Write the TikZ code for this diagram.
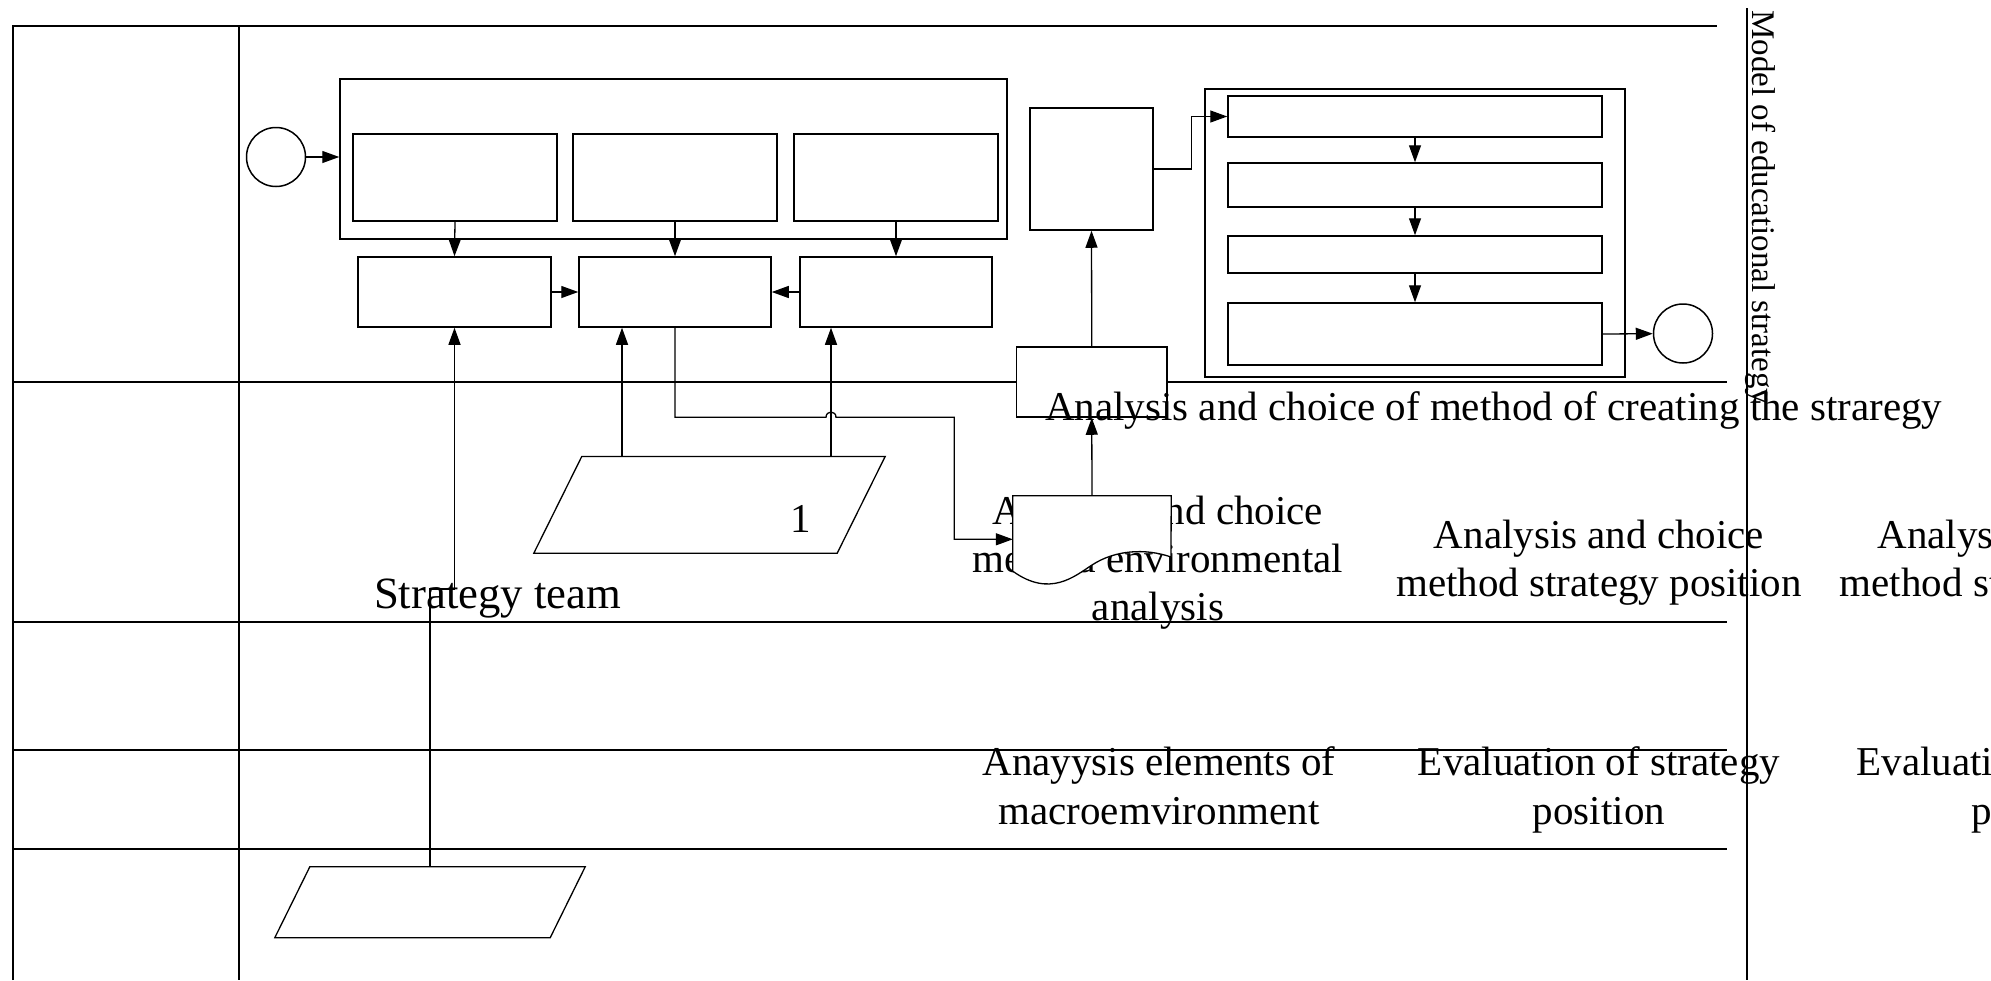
\documentclass[tikz,border=0pt]{standalone}
\usepackage{fontspec}
\setmainfont{Liberation Serif}
\usetikzlibrary{arrows.meta,calc}

\tikzset{
  frame/.style={line width=1.5pt},
  boxnode/.style={draw, rectangle, line width=1.5pt, fill=white, inner sep=0pt},
  ringnode/.style={draw, circle, line width=1.5pt, fill=white, inner sep=0pt, minimum size=59pt},
  plain/.style={rectangle, inner sep=0pt, draw=none},
  arr/.style={line width=1.3pt, -{Triangle[length=17pt,width=12pt]}},
  lbl/.style={font=\fontsize{41}{48}\selectfont, inner sep=0pt, anchor=base},
  biglbl/.style={font=\fontsize{44.7}{52}\selectfont, inner sep=0pt, anchor=base},
  sidelbl/.style={font=\fontsize{33}{38}\selectfont, inner sep=0pt, anchor=base west, rotate=-90}
}

\begin{document}
\begin{tikzpicture}[x=1pt, y=-1pt]
\useasboundingbox (0,0) rectangle (1991,980);

% swimlane grid
\draw[frame] (13,980) -- (13,26) -- (1717,26);
\draw[frame] (239,26) -- (239,980);
\foreach \yy in {382,622,750,849}
  \draw[frame] (13,\yy) -- (1727,\yy);
\draw[frame] (1747,8) -- (1747,980);

% lane texts (row 2 and row 4)
\node[lbl] (e1) at (1158,524) {Analysis and choice};
\node[lbl] (e2) at (1158,572) {method environmental};
\node[lbl] (e3) at (1158,620) {analysis};
\node[lbl] (s1) at (1599,548.6) {Analysis and choice};
\node[lbl] (s2) at (1599,596.5) {method strategy position};
\node[lbl] (r1) at (2042.5,548.6) {Analysis and choice};
\node[lbl] (r2) at (2042.5,596.5) {method strategy position};
\node[lbl] (m1) at (1159,775) {Anayysis elements of};
\node[lbl] (m2) at (1159,824) {macroemvironment};
\node[lbl] (v1) at (1599,775) {Evaluation of strategy};
\node[lbl] (v2) at (1599,824) {position};
\node[lbl] (w1) at (2037.5,775) {Evaluation of strategy};
\node[lbl] (w2) at (2037.5,824) {position};
\node[biglbl] (team) at (497.5,608.3) {Strategy team};
\node[sidelbl] (side) at (1752,10) {Model of educational strategy};

% left group of activities
\node[ringnode] (start) at (276,157) {};
\node[boxnode, minimum width=667pt, minimum height=160pt] (g1) at (673.5,159) {};
\node[boxnode, minimum width=204pt, minimum height=87pt] (in1) at (455,177.5) {};
\node[boxnode, minimum width=204pt, minimum height=87pt] (in2) at (675,177.5) {};
\node[boxnode, minimum width=204pt, minimum height=87pt] (in3) at (896,177.5) {};
\node[boxnode, minimum width=193pt, minimum height=70pt] (lo1) at (454.5,292) {};
\node[boxnode, minimum width=192pt, minimum height=70pt] (lo2) at (675,292) {};
\node[boxnode, minimum width=192pt, minimum height=70pt] (lo3) at (896,292) {};

% middle column
\node[boxnode, minimum width=123pt, minimum height=122pt] (tall) at (1091.5,169) {};
\node[boxnode, minimum width=150.5pt, minimum height=70pt] (meth) at (1091.75,382) {};

% right group of activities
\node[boxnode, minimum width=420pt, minimum height=288pt] (g2) at (1415,233) {};
\node[boxnode, minimum width=374pt, minimum height=41pt] (rA) at (1415,116.5) {};
\node[boxnode, minimum width=374pt, minimum height=44pt] (rB) at (1415,185) {};
\node[boxnode, minimum width=374pt, minimum height=37pt] (rC) at (1415,254.5) {};
\node[boxnode, minimum width=374pt, minimum height=62pt] (rD) at (1415,334) {};
\node[ringnode] (end) at (1683,333.5) {};

% data inputs (parallelograms)
\node[plain, minimum width=351pt, minimum height=96.4pt] (p1) at (709.5,504.8) {};
\draw[line width=1.3pt] ([xshift=48pt]p1.north west) -- (p1.north east)
  -- ([xshift=-48pt]p1.south east) -- (p1.south west) -- cycle;
\node[lbl] (one) at (801,532) {1};
\node[plain, minimum width=310pt, minimum height=70.5pt] (p2) at (430,902.25) {};
\draw[line width=1.3pt] ([xshift=35pt]p2.north west) -- (p2.north east)
  -- ([xshift=-35pt]p2.south east) -- (p2.south west) -- cycle;

% document shape
\node[plain, minimum width=158pt, minimum height=75pt] (doc) at (1092,533.5) {};
\draw[line width=1.3pt, fill=white] (doc.south west) -- (doc.north west) -- (doc.north east)
  -- (1171,557) .. controls (1145,548) and (1115,550) .. (1092,565)
  .. controls (1075,576) and (1050,598) .. (doc.south west) -- cycle;

% connectors
\draw[arr] (start) -- (start -| g1.west);
\draw[arr] (in1.south) -- (lo1.north);
\draw[arr] (in2.south) -- (lo2.north);
\draw[arr] (in3.south) -- (lo3.north);
\draw[arr] (lo1.east) -- (lo2.west);
\draw[arr] (lo3.west) -- (lo2.east);

\coordinate (jog) at (430,589);
\draw[arr] (p2.north) -- (jog) -| (lo1.south);

\coordinate (c622) at (622,0);
\coordinate (c831) at (831,0);
\draw[arr] (c622 |- p1.north) -- (c622 |- lo2.south);
\draw[arr] (c831 |- p1.north) -- (c831 |- lo3.south);

\coordinate (hop) at (831,417.3);
\coordinate (bend) at (954.3,417.3);
\draw[arr] (lo2.south) |- ([xshift=-5pt]hop)
  .. controls ([xshift=-5pt]$(hop)+(0,-7)$) and ([xshift=5pt]$(hop)+(0,-7)$) .. ([xshift=5pt]hop)
  -- (bend) |- ([yshift=-5.8pt]doc.west);

\draw[arr] (doc.north) -- (meth.south);
\draw[arr] (meth.north) -- (tall.south);
\draw[arr] (tall.east) -- ++(37.5,0) |- (rA.west);
\draw[arr] (rA.south) -- (rB.north);
\draw[arr] (rB.south) -- (rC.north);
\draw[arr] (rC.south) -- (rD.north);
\draw[arr] (rD.east) -- (end);

% lane caption over the method box
\node[lbl, anchor=base west] (cap) at (1045,420) {Analysis and choice of method of creating the straregy};
\end{tikzpicture}
\end{document}
